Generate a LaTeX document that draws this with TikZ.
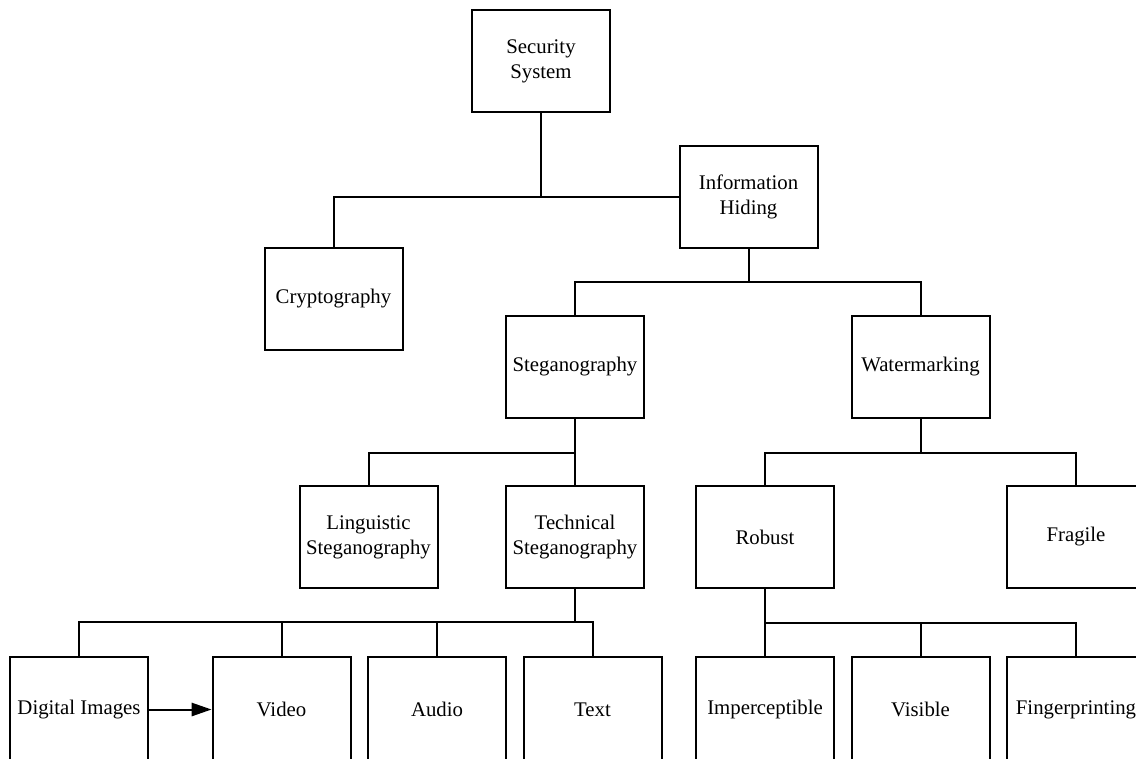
\documentclass[tikz,border=0pt]{standalone}
\usepackage{fontspec}
\setmainfont{Liberation Serif}
\usetikzlibrary{arrows.meta}
\begin{document}
\begin{tikzpicture}[x=0.75pt,y=-0.75pt,
  box/.style={draw=black,line width=1.5pt,rectangle,minimum width=103.5pt,minimum height=76.5pt,
    inner sep=1pt,align=center,font=\fontsize{15.6}{18.75}\selectfont},
  conn/.style={draw=black,line width=1.5pt}]
\useasboundingbox[fill=white] (0,0) rectangle (1136,758);
\node[box] (sec) at (541,61) {Security\\System};
\node[box] (info) at (748.5,197) {Information\\Hiding};
\node[box] (crypto) at (333.5,299) {Cryptography};
\node[box] (steg) at (575,366.5) {Steganography};
\node[box] (water) at (920.5,366.5) {Watermarking};
\node[box] (ling) at (368.5,537) {Linguistic\\Steganography};
\node[box] (tech) at (575,537) {Technical\\Steganography};
\node[box] (robust) at (765,537) {Robust};
\node[box] (fragile) at (1076,537) {Fragile};
\node[box,minimum height=79pt] (digital) at (79,709.5) {Digital Images};
\node[box,minimum height=79pt] (video) at (281.5,709.5) {Video};
\node[box,minimum height=79pt] (audio) at (437,709.5) {Audio};
\node[box,minimum height=79pt] (text) at (592.5,709.5) {Text};
\node[box,minimum height=79pt] (imp) at (765,709.5) {Imperceptible};
\node[box,minimum height=79pt] (visible) at (920.5,709.5) {Visible};
\node[box,minimum height=79pt] (finger) at (1076,709.5) {Fingerprinting};
\coordinate (j0) at (541,197);
\coordinate (j1) at (748.5,282);
\coordinate (j2) at (575,453);
\coordinate (j3) at (920.5,453);
\coordinate (j4) at (575,622);
\coordinate (j5) at (765,623);
\draw[conn] (sec.south) -- (j0);
\draw[conn] (crypto.north) |- (info.west);
\draw[conn] (info.south) -- (j1);
\draw[conn] (steg.north) |- (j1) -| (water.north);
\draw[conn] (steg.south) -- (tech.north);
\draw[conn] (ling.north) |- (j2);
\draw[conn] (water.south) -- (j3);
\draw[conn] (robust.north) |- (j3) -| (fragile.north);
\draw[conn] (tech.south) -- (j4);
\draw[conn] (digital.north) |- (j4) -| (text.north);
\draw[conn] (video.north) -- (video.north |- j4);
\draw[conn] (audio.north) -- (audio.north |- j4);
\draw[conn] (robust.south) -- (imp.north);
\draw[conn] (j5) -| (finger.north);
\draw[conn] (visible.north) -- (visible.north |- j5);
\draw[conn,-{Triangle[length=15pt,width=10pt]}] (digital.east) -- (video.west);
\end{tikzpicture}
\end{document}
